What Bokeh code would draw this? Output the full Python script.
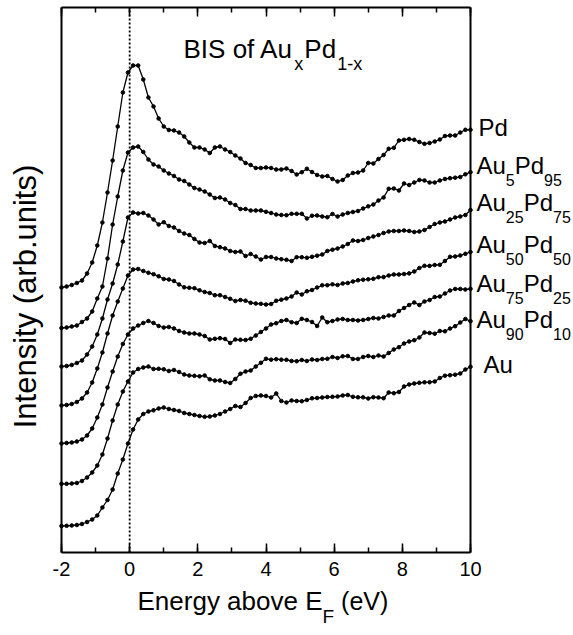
import math
from bokeh.plotting import figure
from bokeh.models import (Range1d, LinearAxis, SingleIntervalTicker, FixedTicker, Label,
                          CustomJSTickFormatter)
from bokeh.embed import file_html
from bokeh.resources import INLINE

# ---------------- data ----------------
energy = [-2.0, -1.85, -1.7, -1.55, -1.4, -1.25, -1.1, -0.95, -0.8, -0.65,
          -0.5, -0.35, -0.2, -0.05, 0.1, 0.25, 0.4, 0.55, 0.7, 0.85,
          1.0, 1.15, 1.3, 1.45, 1.6, 1.75, 1.9, 2.05, 2.2, 2.35,
          2.5, 2.65, 2.8, 2.95, 3.1, 3.25, 3.4, 3.55, 3.7, 3.85,
          4.0, 4.15, 4.3, 4.45, 4.6, 4.75, 4.9, 5.05, 5.2, 5.35,
          5.5, 5.65, 5.8, 5.95, 6.1, 6.25, 6.4, 6.55, 6.7, 6.85,
          7.0, 7.15, 7.3, 7.45, 7.6, 7.75, 7.9, 8.05, 8.2, 8.35,
          8.5, 8.65, 8.8, 8.95, 9.1, 9.25, 9.4, 9.55, 9.7, 9.85, 10.0]

pd = [265, 266, 267.5, 269.5, 272, 279, 290, 307, 330, 360,
      392, 426, 460, 480, 487, 487, 473, 455, 446, 434,
      426, 422.5, 422, 420, 416, 410, 405, 405, 403, 399.5,
      405, 406, 403, 400.5, 397, 394, 389.5, 387.5, 384.5, 384.5,
      385, 384.5, 383, 383, 384, 381.5, 378, 380.3, 383.7, 380.5,
      377.5, 376, 376.5, 373.5, 371, 372.5, 377, 379.5, 380, 382,
      389.5, 389, 393.5, 397.5, 403.7, 404.7, 412, 412.7, 413.5, 412.7,
      410.5, 408.7, 409.5, 411, 413, 416.5, 417, 417, 420, 422.7, 422.7]

au5pd95 = [224.5, 225, 226, 227, 230.5, 234, 241, 254, 266, 294,
           328, 356, 382, 400, 405, 406, 400.5, 393, 388, 386,
           382, 379, 376.5, 373, 371.5, 368, 364.5, 363, 361, 358,
           354.5, 355, 353, 349.5, 347.5, 343.5, 343.5, 342, 342, 342,
           340.7, 339.5, 338, 337.5, 337.3, 338.7, 338.7, 338.7, 334, 336.8,
           337, 336, 335.3, 338.5, 336, 338, 339.5, 340.5, 341.5, 344,
           346.2, 348, 352, 355, 363.7, 364, 362, 369, 367.5, 370,
           372.5, 372, 370, 370, 372, 373.5, 374.3, 374.8, 375.5, 378.2, 380.3]

au25pd75 = [186, 186.5, 187.5, 189.5, 192, 198, 206, 218, 234, 253,
            269, 288, 311, 335, 340, 339, 339.5, 337, 333, 328,
            330.3, 326.5, 325, 321.5, 319, 317.5, 313.5, 310, 309.5, 311.5,
            306.5, 305.3, 304, 301.5, 300.5, 301, 296.5, 298.5, 296, 293,
            295.5, 295.5, 294, 293.3, 292.7, 291.5, 295.3, 295.3, 294.7, 295.7,
            296.8, 298, 301.5, 302.8, 304, 306, 308.5, 312, 311.5, 312.5,
            314.5, 316, 317.5, 319.5, 321, 321.5, 321.5, 322, 321.5, 320.5,
            321, 322.5, 325.5, 328.5, 330, 331, 333, 335, 336, 337.5, 342.5]

au50pd50 = [147, 147.5, 148.5, 150.5, 154, 160, 170, 184, 200, 219,
            237, 251, 264, 277, 283, 283.5, 281.5, 279.7, 278.3, 276.2,
            273.5, 273, 271.5, 268, 265.2, 264.7, 264.3, 262.2, 260.5, 259.5,
            257.3, 257.3, 255.5, 253.7, 251.5, 252.5, 251.8, 249.7, 249, 248.7,
            248, 248.5, 251.7, 252.8, 254, 256, 260, 258, 261.2, 262.5,
            265, 267.2, 267.3, 268.2, 267.5, 269, 269.5, 271, 272.2, 272.8,
            273.2, 273.7, 275.3, 275.4, 277, 278, 278, 278.5, 279.1, 281,
            284.5, 286.7, 286.6, 287.5, 287.7, 291.5, 295.7, 296, 297, 298.7, 300.5]

au75pd25 = [109, 109.5, 110, 111, 113, 117, 124, 135, 148, 165,
            181, 196, 208.5, 218, 224, 227, 229.5, 231.5, 229.5, 226.5,
            225, 225.5, 224, 221.5, 220, 219, 219, 218, 216.5, 213,
            213.7, 214.3, 213.5, 209.5, 213, 212.7, 212.5, 213.7, 217, 220.5,
            224, 228, 229.3, 231.5, 232.5, 230.3, 229.5, 233.7, 232.5, 230.5,
            226.5, 235, 230.3, 231.5, 233, 233.5, 232.5, 232.5, 232, 232.5,
            233.5, 234.5, 234, 235.5, 237, 237, 241.5, 244.5, 247.5, 250,
            247.5, 251, 252.5, 255.5, 256, 259, 262, 263.5, 263.5, 263, 263.7]

au90pd10 = [68.7, 68.7, 69, 69.5, 71.5, 75, 80, 87, 98, 114,
            132, 148, 161, 171, 180, 183.5, 185, 186, 183.5, 183.7,
            183.2, 181.5, 182.5, 180.5, 178, 177, 176.7, 176.2, 177, 173.2,
            172, 172, 170.5, 169.5, 173.5, 178.7, 181, 182, 186, 189.7,
            193.7, 192.8, 193.3, 192.8, 192.7, 191.5, 191.3, 192.5, 191.5, 193,
            192.5, 193.5, 193.7, 195.5, 194.5, 196.2, 196.5, 193.5, 193.5, 195.5,
            196.5, 195.5, 197, 196, 199.5, 203, 205.3, 209, 211, 212.3,
            215, 220, 219.5, 218.8, 221.5, 221.2, 224, 226.3, 230, 233.5, 231.3]

au = [26.5, 26.7, 27, 27.5, 28.5, 30.5, 33, 37, 45, 52.5,
      63, 79, 93, 109, 123, 133, 138.5, 141, 142.2, 144,
      145, 143.5, 142.5, 141.5, 139.5, 138.5, 137.5, 136.5, 135.7, 136,
      137, 138.5, 141, 143.5, 146.5, 145.5, 149.5, 154.5, 156.5, 157,
      156.5, 155, 159, 151.5, 150, 152, 151.5, 151.3, 152.5, 154.2,
      154.5, 155, 155.5, 155.7, 156, 157, 157.5, 155.7, 155.2, 155.2,
      154, 155.3, 155, 154.3, 160, 159.3, 160.5, 166, 168, 169,
      169.7, 170.2, 170.3, 171, 174.5, 176.8, 177.3, 177.8, 179, 183, 185.7]

series = [pd, au5pd95, au25pd75, au50pd50, au75pd25, au90pd10, au]
series_labels = [["Pd"], ["Au", "5", "Pd", "95"], ["Au", "25", "Pd", "75"],
                 ["Au", "50", "Pd", "50"], ["Au", "75", "Pd", "25"],
                 ["Au", "90", "Pd", "10"], ["Au"]]
x_min, x_max = -2, 10          # energy axis (eV)
y_min, y_max = 0, 545          # intensity axis (arb. units)
fermi_level = 0
x_tick_interval = 2

# ---------------- layout ----------------
W, H = 573, 635
L, R, T, B = 61, 103, 7, 83            # frame margins inside the canvas (px)
FW, FH = W - L - R, H - T - B          # 409 x 545
FONT = "Liberation Sans"
FIX = 8                                # baseline correction for Label placement (px)

sx = (x_max - x_min) / FW
sy = (y_max - y_min) / FH
p = figure(width=W, height=H,
           x_range=Range1d(x_min - L * sx, x_max + R * sx),
           y_range=Range1d(y_min - B * sy, y_max + T * sy),
           x_axis_type=None, y_axis_type=None, min_border=0,
           output_backend="svg", toolbar_location=None,
           background_fill_color="white", border_fill_color="white")
p.outline_line_color = None


def tick_axis(loc, show_labels):
    ax = LinearAxis(fixed_location=loc, bounds=(x_min, x_max),
                    ticker=SingleIntervalTicker(interval=x_tick_interval, num_minor_ticks=2),
                    major_tick_in=9, major_tick_out=0, minor_tick_in=5, minor_tick_out=0,
                    major_tick_line_width=1.5, minor_tick_line_width=1.5,
                    major_tick_line_color="black", minor_tick_line_color="black",
                    axis_line_color="black", axis_line_width=2)
    if show_labels:
        ax.major_label_text_font = FONT
        ax.major_label_text_font_size = "20px"
        ax.major_label_text_color = "black"
        ax.major_label_standoff = 9
        ax.major_label_overrides = {-2: "-2"}
    else:
        ax.formatter = CustomJSTickFormatter(code="return ''")
        ax.major_label_standoff = 0
    return ax


p.add_layout(tick_axis(y_min, True), "below")
p.add_layout(tick_axis(y_max, False), "above")
for loc, side in ((x_min, "left"), (x_max, "right")):
    p.add_layout(LinearAxis(fixed_location=loc, bounds=(y_min, y_max),
                            ticker=FixedTicker(ticks=[]),
                            axis_line_color="black", axis_line_width=2), side)

# dotted line at the Fermi level
p.segment(x0=[fermi_level], y0=[y_min], x1=[fermi_level], y1=[y_max],
          line_color="black", line_width=1.8, line_dash="2 2")

for s in series:
    p.line(energy, s, line_color="black", line_width=1.3)
    p.scatter(energy, s, marker="circle", size=3.6, color="black")

# ---------------- text helpers (Arial / Liberation Sans advance widths) ----------------
ADV = {" ": 278, "A": 667, "B": 667, "E": 667, "F": 611, "I": 278, "P": 667, "S": 667, "V": 667,
       "a": 556, "b": 556, "d": 556, "e": 556, "f": 278, "g": 556, "i": 222, "n": 556,
       "o": 556, "r": 333, "s": 500, "t": 278, "u": 556, "v": 500, "x": 500, "y": 500,
       "(": 333, ")": 333, ".": 278, "-": 333}


def tw(s, size):
    return sum(ADV.get(c, 556) for c in s) * size / 1000.0


def px2x(px):
    return x_min + (px - L) * sx


def py2y(py):
    return y_min + (T + FH - py) * sy


def put(parts, x_px, base_px):
    """parts: (text, font size px, baseline drop px, extra gap before px)"""
    x = x_px
    for text, size, drop, gap in parts:
        x += gap
        p.add_layout(Label(x=px2x(x), y=py2y(base_px - FIX + drop), text=text,
                           text_font=FONT, text_font_size=f"{size}px",
                           text_color="black", text_align="left",
                           text_baseline="alphabetic"))
        x += tw(text, size)


MAIN, SUB, DROP = 24, 16, 14

# title
put([("BIS of Au", 26, 0, 0), ("x", 18, 15, 1), ("Pd", 26, 0, 1), ("1-x", 18, 15, 1)], 183, 56)

# series labels at right
label_x = [478, 476, 476, 476, 476, 476, 483]
label_base = [135, 173, 210, 252, 291, 327, 372]
for parts, lx, lb in zip(series_labels, label_x, label_base):
    put([(t, MAIN if k % 2 == 0 else SUB, 0 if k % 2 == 0 else DROP, 0)
         for k, t in enumerate(parts)], lx, lb)

# x axis label
put([("Energy above E", 26, 0, 0), ("F", 19, 16, 0), ("(eV)", 25, 0, 7)], 137, 608)

# y axis label
p.add_layout(Label(x=px2x(33 - FIX), y=py2y(296), text="Intensity (arb.units)",
                   text_font=FONT, text_font_size="31px", text_color="black",
                   angle=math.pi / 2, text_align="center", text_baseline="alphabetic"))

open("out.html", "w").write(file_html(p, INLINE))
